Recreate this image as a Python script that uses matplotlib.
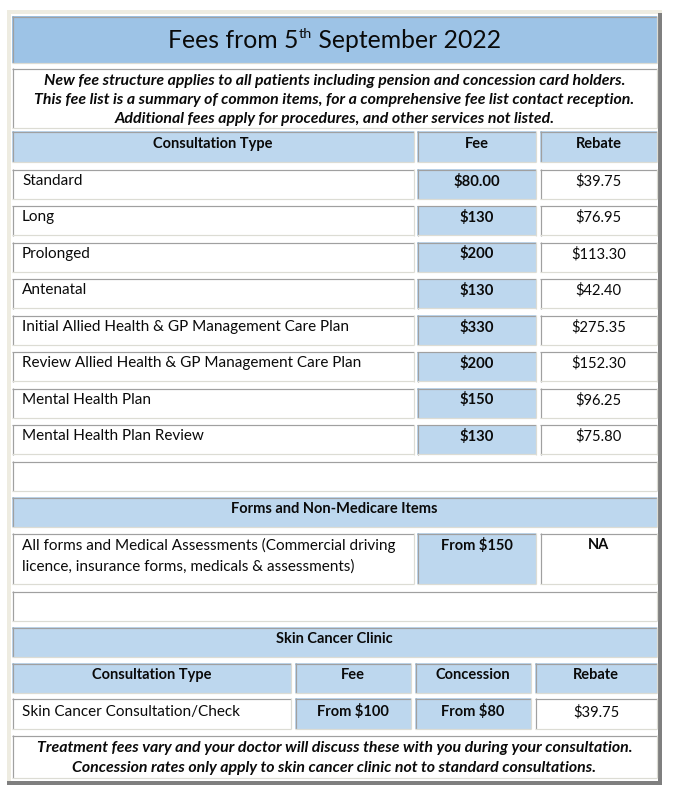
import matplotlib
matplotlib.use("Agg")
import matplotlib.pyplot as plt
from matplotlib.patches import Rectangle

# ---------------- data ----------------
title_main = "Fees from 5"
title_sup = "th"
title_rest = " September 2022"
intro_lines = [
    "New fee structure applies to all patients including pension and concession card holders.",
    "This fee list is a summary of common items, for a comprehensive fee list contact reception.",
    "Additional fees apply for procedures, and other services not listed.",
]
header_cols = ["Consultation Type", "Fee", "Rebate"]
consult_types = [
    "Standard", "Long", "Prolonged", "Antenatal",
    "Initial Allied Health & GP Management Care Plan",
    "Review Allied Health & GP Management Care Plan",
    "Mental Health Plan", "Mental Health Plan Review",
]
consult_fees = ["$80.00", "$130", "$200", "$130", "$330", "$200", "$150", "$130"]
consult_rebates = ["$39.75", "$76.95", "$113.30", "$42.40", "$275.35", "$152.30", "$96.25", "$75.80"]
forms_title = "Forms and Non-Medicare Items"
forms_item_lines = ["All forms and Medical Assessments (Commercial driving",
                    "licence, insurance forms, medicals & assessments)"]
forms_fee = "From $150"
forms_rebate = "NA"
skin_title = "Skin Cancer Clinic"
skin_cols = ["Consultation Type", "Fee", "Concession", "Rebate"]
skin_items = ["Skin Cancer Consultation/Check"]
skin_fees = ["From $100"]
skin_concessions = ["From $80"]
skin_rebates = ["$39.75"]
footer_lines = [
    "Treatment fees vary and your doctor will discuss these with you during your consultation.",
    "Concession rates only apply to skin cancer clinic not to standard consultations.",
]

# ---------------- style ----------------
FONT = "Lato"
TITLE_BLUE = "#9DC3E6"
HEAD_BLUE = "#BDD7EE"
BEIGE = "#EEECE1"
DARK = "#A0A0A0"
LIGHT = "#DCDCD4"
TXT = "#0A0A0A"
NAME = 11.0      # left-hand item names
NUM = 10.6       # numbers
BOLD = 10.5      # bold headings
NOTE = 11.4      # bold italic notes
DY = 1.0         # vertical nudge of text

W, H = 677, 792
fig = plt.figure(figsize=(W / 100, H / 100), dpi=100)
ax = fig.add_axes([0, 0, 1, 1])
ax.set_xlim(0, W)
ax.set_ylim(H, 0)
ax.axis("off")
fig.patch.set_facecolor("white")

PX = 0.72  # one pixel in points


def rect(x0, y0, x1, y1, color, z=1):
    ax.add_patch(Rectangle((x0, y0), x1 - x0, y1 - y0, facecolor=color,
                           edgecolor="none", zorder=z))


def cell(x0, y0, x1, y1, color="white"):
    rect(x0, y0, x1, y1, color, z=2)
    kw = dict(lw=1.2 * PX, zorder=3, solid_capstyle="butt")
    ax.plot([x0, x1], [y0 + 0.5, y0 + 0.5], color=DARK, **kw)
    ax.plot([x0 + 0.5, x0 + 0.5], [y0, y1], color=DARK, **kw)
    ax.plot([x0, x1], [y1 - 0.5, y1 - 0.5], color=LIGHT, **kw)
    ax.plot([x1 - 0.5, x1 - 0.5], [y0, y1], color=LIGHT, **kw)


def txt(x, y, s, ha="left", weight="normal", style="normal", size=NAME):
    return ax.text(x, y + DY, s, ha=ha, va="center", fontsize=size, family=FONT,
                   fontweight=weight, fontstyle=style, color=TXT, zorder=5)


# frame
rect(7, 10, 662, 785, BEIGE, z=0)
rect(11, 14, 658, 781, "white", z=0.5)
rect(658, 13, 662, 785, "#7F7F7F", z=1)
rect(7, 781, 662, 785, "#7F7F7F", z=1)

L, R = 12, 657
C1, C2a, C2b, C3 = 414, 417, 536, 540

# title
cell(L, 16, R, 63, TITLE_BLUE)
TS = 17.8
fig.canvas.draw()
rend = fig.canvas.get_renderer()
ty = 48
t1 = ax.text(0, ty, title_main, fontsize=TS, family=FONT, va="baseline", color=TXT, zorder=5)
t2 = ax.text(0, ty - 9.5, title_sup, fontsize=TS * 0.58, family=FONT, va="baseline", color=TXT, zorder=5)
t3 = ax.text(0, ty, title_rest, fontsize=TS, family=FONT, va="baseline", color=TXT, zorder=5)
w1 = t1.get_window_extent(rend).width
w2 = t2.get_window_extent(rend).width
w3 = t3.get_window_extent(rend).width
start = (L + R) / 2 - (w1 + w2 + w3) / 2
t1.set_x(start)
t2.set_x(start + w1)
t3.set_x(start + w1 + w2)

# intro
cell(L, 68, R, 128)
for yy, line in zip([80, 99, 118], intro_lines):
    txt((L + R) / 2, yy, line, ha="center", weight="bold", style="italic", size=NOTE)

# header row
cell(L, 131, C1, 162, HEAD_BLUE)
cell(C2a, 131, C2b, 162, HEAD_BLUE)
cell(C3, 131, R, 162, HEAD_BLUE)
for (x0, x1), lab in zip([(L, C1), (C2a, C2b), (C3, R)], header_cols):
    txt((x0 + x1) / 2, 143, lab, ha="center", weight="bold", size=BOLD)

# data rows
for i, (name, fee, reb) in enumerate(zip(consult_types, consult_fees, consult_rebates)):
    y0 = 169 + 36.5 * i
    y1 = y0 + 30
    cell(L, y0, C1, y1)
    cell(C2a, y0, C2b, y1, HEAD_BLUE)
    cell(C3, y0, R, y1)
    txt(22, y0 + 11, name, size=NAME)
    txt((C2a + C2b) / 2, y0 + 11, fee, ha="center", weight="bold", size=NUM)
    txt((C3 + R) / 2, y0 + 11, reb, ha="center", size=NUM)

# empty row
cell(L, 461, R, 491)

# forms
cell(L, 497, R, 527, HEAD_BLUE)
txt((L + R) / 2, 508, forms_title, ha="center", weight="bold", size=BOLD)
cell(L, 533, C1, 584)
cell(C2a, 533, C2b, 584, HEAD_BLUE)
cell(C3, 533, R, 584)
for yy, line in zip([544, 566], forms_item_lines):
    txt(22, yy, line, size=NAME)
txt((C2a + C2b) / 2, 544, forms_fee, ha="center", weight="bold", size=BOLD)
txt((C3 + R) / 2, 544, forms_rebate, ha="center", weight="bold", size=BOLD)

# empty row
cell(L, 591, R, 621)

# skin cancer
cell(L, 627, R, 657, HEAD_BLUE)
txt((L + R) / 2, 638, skin_title, ha="center", weight="bold", size=BOLD)
scols = [(L, 291), (295, 411), (415, 531), (535, R)]
for (x0, x1), lab in zip(scols, skin_cols):
    cell(x0, 663, x1, 693, HEAD_BLUE)
    txt((x0 + x1) / 2, 674, lab, ha="center", weight="bold", size=BOLD)
for i, (it, fe, co, rb) in enumerate(zip(skin_items, skin_fees, skin_concessions, skin_rebates)):
    y0 = 698 + 36 * i
    y1 = y0 + 31
    cell(scols[0][0], y0, scols[0][1], y1)
    cell(scols[1][0], y0, scols[1][1], y1, HEAD_BLUE)
    cell(scols[2][0], y0, scols[2][1], y1, HEAD_BLUE)
    cell(scols[3][0], y0, scols[3][1], y1)
    txt(22, y0 + 13, it, size=NAME)
    txt(sum(scols[1]) / 2, y0 + 13, fe, ha="center", weight="bold", size=BOLD)
    txt(sum(scols[2]) / 2, y0 + 13, co, ha="center", weight="bold", size=BOLD)
    txt(sum(scols[3]) / 2, y0 + 13, rb, ha="center", size=NUM)

# footer
cell(L, 735, R, 778)
for yy, line in zip([747, 767], footer_lines):
    txt((L + R) / 2, yy, line, ha="center", weight="bold", style="italic", size=NOTE)

fig.savefig("out.png", dpi=100, facecolor="white")
